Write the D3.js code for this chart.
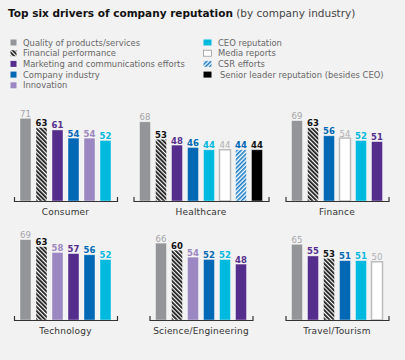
<!DOCTYPE html>
<html>
<head>
<meta charset="utf-8">
<script src="https://cdn.jsdelivr.net/npm/d3@7"></script>
<style>
  body { margin: 0; background: #f2f2f2; }
  svg { display: block; font-family: "DejaVu Sans", sans-serif; }
</style>
</head>
<body>
<div id="chart"></div>
<script>
// Drivers (legend order)
const drivers = [
    "Quality of products/services",
    "Financial performance",
    "Marketing and communications efforts",
    "Company industry",
    "Innovation",
    "CEO reputation",
    "Media reports",
    "CSR efforts",
    "Senior leader reputation (besides CEO)"
];
const industries = ["Consumer", "Healthcare", "Finance", "Technology", "Science/Engineering", "Travel/Tourism"];
// Which drivers appear in each industry panel (index into drivers), and their scores
const panelDrivers = [
    [0, 1, 2, 3, 4, 5],
    [0, 1, 2, 3, 5, 6, 7, 8],
    [0, 1, 3, 6, 5, 2],
    [0, 1, 4, 2, 3, 5],
    [0, 1, 4, 3, 5, 2],
    [0, 2, 1, 3, 5, 6]
];
const panelValues = [
    [71, 63, 61, 54, 54, 52],
    [68, 53, 48, 46, 44, 44, 44, 44],
    [69, 63, 56, 54, 52, 51],
    [69, 63, 58, 57, 56, 52],
    [66, 60, 54, 52, 52, 48],
    [65, 55, 53, 51, 51, 50]
];

// Styles per driver
const fills = ["#939598", "url(#hatchBlack)", "#552e8d", "#0068b5", "#9b87c1", "#00b9de", "#ffffff", "url(#hatchBlue)", "#000000"];
const labelColors = ["#a3a4a7", "#111111", "#552e8d", "#0068b5", "#9b87c1", "#00b9de", "#b0b0b0", "#0068b5", "#111111"];

const width = 405, height = 360;
const step = 16, barW = 11;
const colCenters = [65.5, 201, 337];
const baselines = [201, 320];

const svg = d3.select("#chart").append("svg")
    .attr("width", width)
    .attr("height", height);

// Hatch patterns
const defs = svg.append("defs");
function hatch(id, color, angle, w) {
    const p = defs.append("pattern")
        .attr("id", id)
        .attr("patternUnits", "userSpaceOnUse")
        .attr("width", 3).attr("height", 3)
        .attr("patternTransform", "rotate(" + angle + ")");
    p.append("rect").attr("width", 3).attr("height", 3).attr("fill", "#fff");
    p.append("rect").attr("width", w).attr("height", 3).attr("fill", color);
}
hatch("hatchBlack", "#1a1a1a", -45, 1.8);
hatch("hatchBlue", "#1a7cc8", 45, 1.6);

// Title
const title = svg.append("text").attr("x", 8).attr("y", 17).attr("fill", "#111");
title.append("tspan").attr("font-weight", "bold").attr("font-size", 10.5).text("Top six drivers of company reputation");
title.append("tspan").attr("font-size", 10.5).attr("fill", "#444").text(" (by company industry)");

// Legend
const legendRows = 5, legendTop = 42.5, legendGap = 10.7;
const legend = svg.append("g").selectAll("g")
    .data(drivers)
    .enter()
    .append("g")
    .attr("transform", (d, i) => {
        const col = i < legendRows ? 0 : 1;
        const row = i % legendRows;
        return "translate(" + (col ? 203 : 10) + "," + (legendTop + row * legendGap) + ")";
    });
legend.append("rect")
    .attr("x", 0.5).attr("y", -3)
    .attr("width", (d, i) => i < legendRows ? 6 : 8)
    .attr("height", 6)
    .attr("fill", (d, i) => fills[i])
    .attr("stroke", (d, i) => i === 6 ? "#999" : "none")
    .attr("stroke-width", 0.8);
legend.append("text")
    .attr("x", (d, i) => i < legendRows ? 13 : (i === 8 ? 17 : 15))
    .attr("y", 3)
    .attr("font-size", 8.4)
    .attr("fill", "#666")
    .text(d => d);

// y scale: same for both rows (0 at baseline)
const yScale = d3.scaleLinear().domain([0, 100]).range([0, 116.5]);

industries.forEach((name, p) => {
    const cx = colCenters[p % 3];
    const base = baselines[Math.floor(p / 3)];
    const keys = panelDrivers[p];
    const vals = panelValues[p];
    const n = keys.length;
    const x = d3.scaleBand()
        .domain(d3.range(n))
        .range([cx - n * step / 2, cx + n * step / 2])
        .paddingInner(5 / 16)
        .paddingOuter(2.5 / 16);

    const g = svg.append("g");
    g.selectAll("rect")
        .data(vals)
        .enter()
        .append("rect")
        .attr("x", (d, i) => x(i))
        .attr("y", d => base - yScale(d))
        .attr("width", x.bandwidth())
        .attr("height", d => yScale(d))
        .attr("fill", (d, i) => fills[keys[i]])
        .attr("stroke", (d, i) => keys[i] === 6 ? "#bdbdbd" : "rgba(255,255,255,0.5)")
        .attr("stroke-width", (d, i) => keys[i] === 6 ? 1.5 : 0.8);

    g.selectAll("text.val")
        .data(vals)
        .enter()
        .append("text")
        .attr("class", "val")
        .attr("x", (d, i) => x(i) + x.bandwidth() / 2)
        .attr("y", d => base - yScale(d) - 1.5)
        .attr("text-anchor", "middle")
        .attr("font-size", 8.5)
        .attr("font-weight", (d, i) => (keys[i] === 0 || keys[i] === 6) ? "normal" : "bold")
        .attr("fill", (d, i) => labelColors[keys[i]])
        .text(d => d);

    // axis with end ticks pointing up
    const axisScale = d3.scaleLinear().range([cx - n * step / 2 - 3.5, cx + n * step / 2 + 3.5]);
    g.append("g")
        .attr("transform", "translate(0," + base + ")")
        .call(d3.axisBottom(axisScale).tickValues([]).tickSizeOuter(-4))
        .select(".domain")
        .attr("stroke", "#333")
        .attr("stroke-width", 1.2);

    g.append("text")
        .attr("x", cx)
        .attr("y", base + 14)
        .attr("text-anchor", "middle")
        .attr("font-size", 9)
        .attr("letter-spacing", 0.2)
        .attr("fill", "#333")
        .text(name);
});
</script>
</body>
</html>
